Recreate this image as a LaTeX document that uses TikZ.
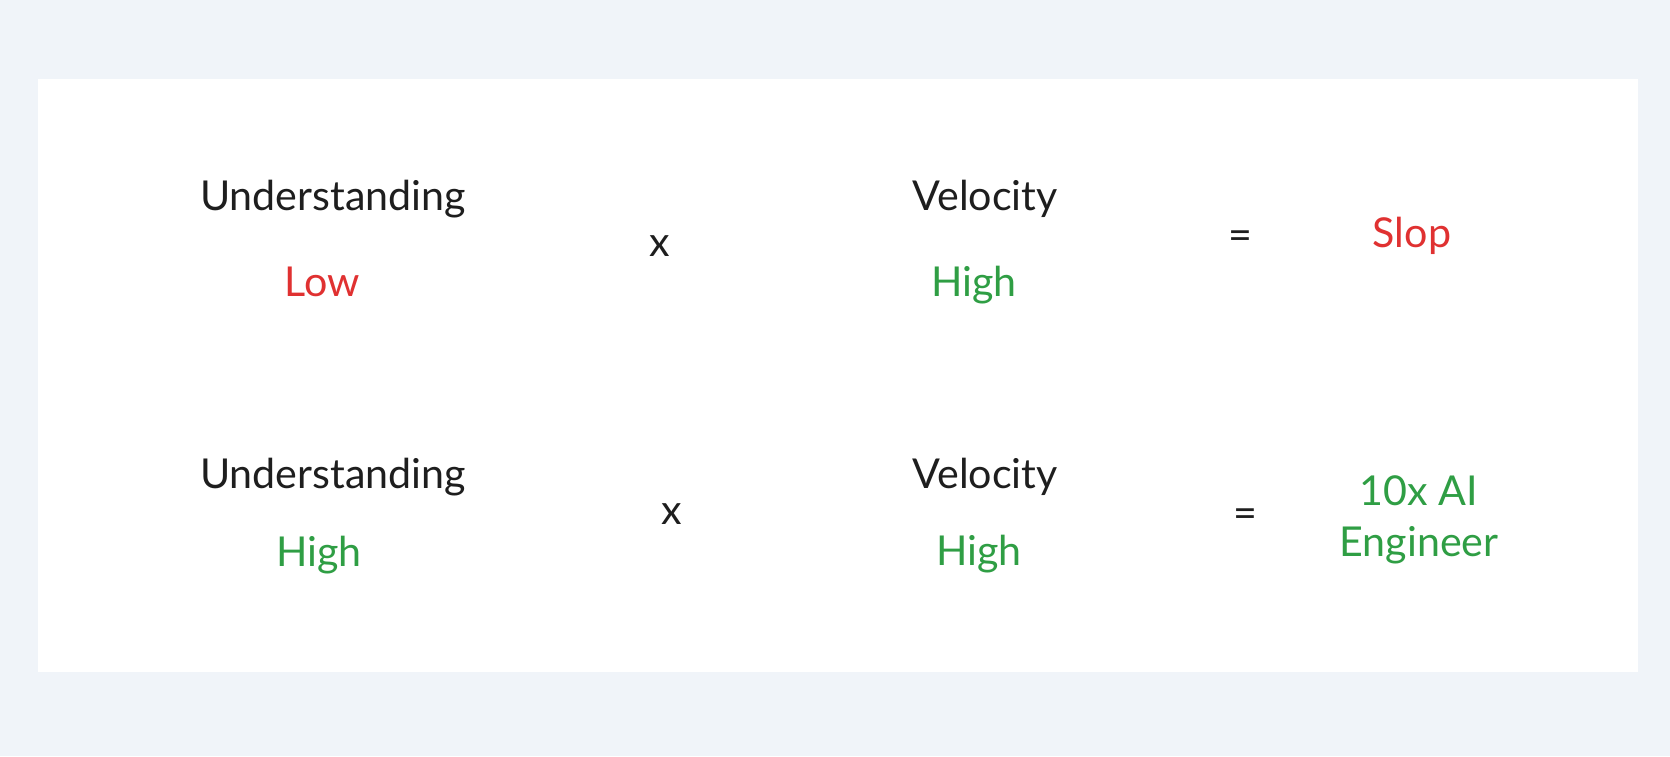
\documentclass[tikz,border=0pt]{standalone}
\usepackage{fontspec}
\setmainfont{Lato}
\definecolor{bgc}{HTML}{F0F4F9}
\definecolor{inkc}{HTML}{1E1E1E}
\definecolor{redc}{HTML}{E03131}
\definecolor{greenc}{HTML}{2F9E44}
\tikzset{
  lbl/.style={anchor=base, inner sep=0pt, font=\fontsize{20.6}{25}\selectfont, text=inkc},
  bad/.style={lbl, text=redc},
  good/.style={lbl, text=greenc},
  opr/.style={lbl}
}
\begin{document}
\begin{tikzpicture}[x=0.5pt,y=-0.5pt]
\useasboundingbox (0,0) rectangle (1670,756);
\fill[bgc] (0,0) rectangle (1670,756);
\fill[white] (38,79) rectangle (1638,672);
% row 1
\node[lbl]  (u1) at (333,210) {Understanding};
\node[bad]  (l1) at (322,296) {Low};
\node[opr]  (x1) at (660,256) {x};
\node[lbl]  (v1) at (985,210) {Velocity};
\node[good] (h1) at (974,296) {High};
\node[opr]  (e1) at (1240,249) {=};
\node[bad]  (s1) at (1412,247) {Slop};
% row 2
\node[lbl]  (u2) at (333,488) {Understanding};
\node[good] (h2) at (319,566) {High};
\node[opr]  (x2) at (672,524) {x};
\node[lbl]  (v2) at (985,488) {Velocity};
\node[good] (h3) at (979,565) {High};
\node[opr]  (e2) at (1245,527) {=};
\node[good] (t1) at (1419,505) {10x AI};
\node[good] (t2) at (1419,556) {Engineer};
\end{tikzpicture}
\end{document}
